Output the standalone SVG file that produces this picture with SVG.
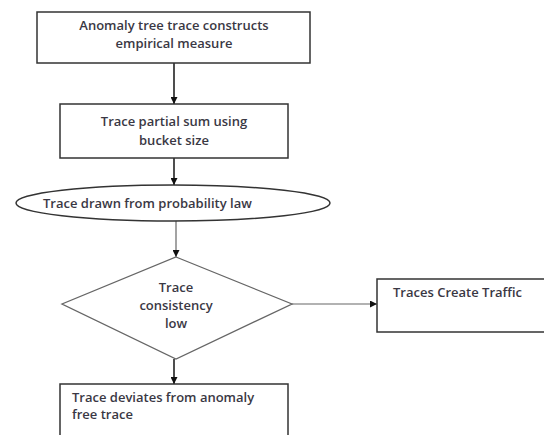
<svg xmlns="http://www.w3.org/2000/svg" width="544" height="435" viewBox="0 0 544 435">
<defs>
<marker id="arr" viewBox="0 0 10 10" refX="10" refY="5" markerWidth="7" markerHeight="7" orient="auto" markerUnits="userSpaceOnUse">
<path d="M0,0 L10,5 L0,10 z" fill="#111"/>
</marker>
<style>
.box{fill:#fff;stroke:#333;stroke-width:1.5}
.dia{fill:#fff;stroke:#666;stroke-width:1.3}
.t{font-family:"Open Sans","Liberation Sans",sans-serif;font-size:13px;font-weight:600;fill:#3a3844}
.c{text-anchor:middle}
.ln{stroke:#222;stroke-width:1.6;fill:none}
.ln2{stroke:#666;stroke-width:1.2;fill:none}
</style>
</defs>
<rect width="544" height="435" fill="#fff"/>
<g id="connectors">
<line class="ln" x1="174" y1="63" x2="174" y2="104" marker-end="url(#arr)"/>
<line class="ln" x1="174" y1="158" x2="174" y2="185" marker-end="url(#arr)"/>
<line class="ln2" x1="176" y1="221" x2="176" y2="257" marker-end="url(#arr)"/>
<line class="ln2" x1="292" y1="304" x2="377" y2="304" marker-end="url(#arr)"/>
<line class="ln" x1="174" y1="359" x2="174" y2="384" marker-end="url(#arr)"/>
</g>
<g id="n1">
<rect class="box" x="37" y="12" width="273" height="51"/>
<text class="t c" x="174" y="30">Anomaly tree trace constructs</text>
<text class="t c" x="174" y="48">empirical measure</text>
</g>
<g id="n2">
<rect class="box" x="60" y="104" width="228" height="54"/>
<text class="t c" x="174" y="126">Trace partial sum using</text>
<text class="t c" x="174" y="145">bucket size</text>
</g>
<g id="n3">
<ellipse class="box" cx="173" cy="203" rx="157" ry="18"/>
<text class="t" x="43" y="208">Trace drawn from probability law</text>
</g>
<g id="n4">
<polygon class="dia" points="176,257 292,304 176,359 62,304"/>
<text class="t c" x="176" y="292">Trace</text>
<text class="t c" x="176" y="310">consistency</text>
<text class="t c" x="176" y="328">low</text>
</g>
<g id="n5">
<rect class="box" x="377" y="279" width="180" height="53"/>
<text class="t" x="393" y="297">Traces Create Traffic</text>
</g>
<g id="n6">
<rect class="box" x="60" y="384" width="228" height="70"/>
<text class="t" x="72" y="402">Trace deviates from anomaly</text>
<text class="t" x="72" y="419">free trace</text>
</g>
</svg>
